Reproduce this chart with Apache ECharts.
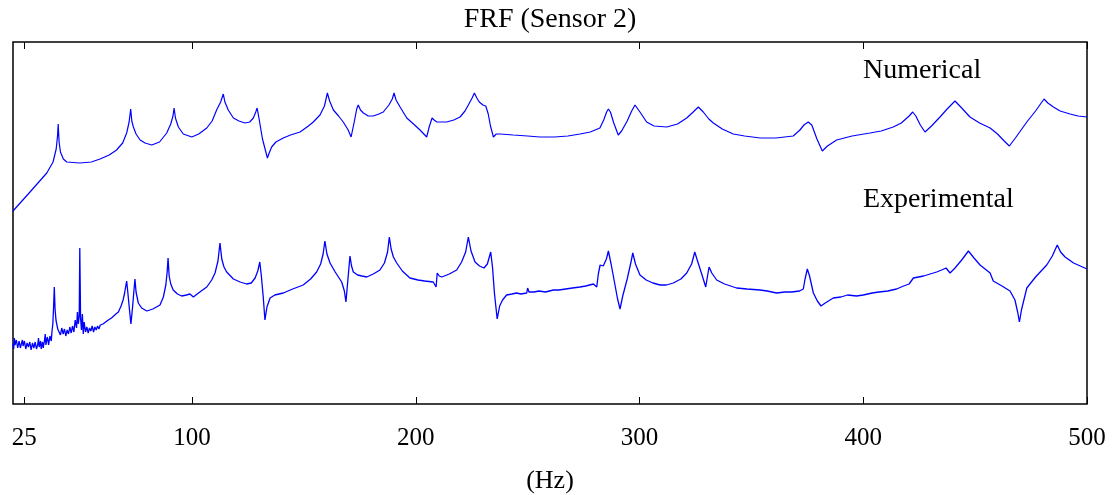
<!DOCTYPE html>
<html>
<head>
<meta charset="utf-8">
<script src="https://cdn.jsdelivr.net/npm/echarts@6/dist/echarts.min.js"></script>
<style>
html,body{margin:0;padding:0;background:#fff;}
#chart{width:1120px;height:495px;}
</style>
</head>
<body>
<div id="chart"></div>
<script>
// ---- data: [frequency (Hz), magnitude (arbitrary log units)] ----
var xTicks = [25, 100, 200, 300, 400, 500];
var titleText = 'FRF (Sensor 2)';
var xName = '(Hz)';
var labelNumerical = 'Numerical';
var labelExperimental = 'Experimental';

var numericalFRF = [
  [20,193],[27.6,212],[35.1,231],[37.9,242],[39.3,255],[39.9,268],[40.2,280],[40.6,262],[41.2,252],[42.5,245],
  [44.0,242],[49.9,241],[55,242],[58.9,245],[63,249],[66.3,254],[69,261],[70.8,271],[71.9,282],[72.6,295],
  [73.1,283],[73.8,277],[75,270],[76.8,264],[79,261],[82.0,259],[85.5,262],[88.7,271],[90.5,280],[91.5,288],
  [92.0,296],[92.6,286],[93.9,277],[96.1,270],[99.9,267],[103,270],[106.6,276],[109,283],[111.0,294],[112.8,302],
  [114.0,310],[114.7,302],[116.2,294],[118.5,286],[121,283],[123.7,281],[125.8,282],[127.4,286],[128.5,292],[129.1,296],
  [130,285],[131.5,265],[133.7,246],[134.5,251],[135.6,257],[137.5,262],[140.8,266],[144,269],[148.3,272],[152,278],
  [154.2,282],[157.2,289],[159.2,298],[160.5,311],[161.5,303],[163.2,294],[165.5,288],[167.6,282],[169.8,274],[171.1,267],
  [172.6,283],[173.6,295],[174.3,299],[175.3,294],[176.6,291],[178.8,288],[181.0,288],[183.5,290],[185.5,292],[188,299],
  [189.5,305],[190.3,311],[191.2,304],[193.0,297],[196.0,286],[199,280],[201.9,274],[204.9,267],[206,277],[207.3,286],
  [208.2,284],[209.4,282],[213.8,282],[217,284],[219.8,287],[222,293],[223.5,299],[225.2,306],[226.2,311],[227.3,306],
  [228.4,302],[230,299],[231.3,298],[232.4,290],[233.4,278],[234.7,267],[236,270],[237.7,270],[243.6,269],[250,268],
  [255.5,267],[262,267],[268,268],[273.4,270],[278,272],[282.3,276],[284,284],[285.3,292],[286.1,295],[287,292],
  [288.5,281],[290.5,269],[292,273],[294.5,283],[296.5,293],[298.0,299],[300.2,292],[303.2,282],[306.5,278],[312.2,277],
  [317,280],[321.1,286],[324,292],[326.3,297],[328.5,292],[331,285],[333.0,281],[337,275],[341.9,270],[347,268],
  [353.9,266],[361,266],[368.7,268],[371.7,274],[373.5,279],[375.4,282],[377.0,279],[379.3,265],[381.7,253],[384,258],
  [388.1,264],[395,268],[403.0,271],[408,273],[413.4,277],[417,281],[420.5,288],[422.1,292],[423.5,288],[425.5,279],
  [427.6,272],[430.5,278],[434.3,287],[437.5,295],[441.0,303],[444,296],[447.7,287],[452,281],[456.7,276],[460,270],
  [463,263],[465.3,258],[468,266],[473.1,282],[477,293],[480.8,305],[482.5,301],[485.0,297],[488,293],[492.4,290],
  [496,288],[500,287]
];

var experimentalFRF = [
  [20.0,60],[20.3,55],[20.6,66],[20.9,59],[21.2,58],[21.5,64],[21.8,63],[22.1,56],[22.4,57],[22.7,63],
  [23.0,62],[23.3,56],[23.6,59],[23.9,61],[24.2,64],[24.5,58],[24.8,57],[25.1,63],[25.4,61],[25.7,55],
  [26.0,56],[26.3,61],[26.6,62],[26.9,57],[27.2,58],[27.5,62],[27.8,60],[28.1,54],[28.4,55],[28.7,61],
  [29.0,63],[29.3,56],[29.6,57],[29.9,62],[30.2,61],[30.5,55],[30.8,56],[31.1,60],[31.4,66],[31.7,57],
  [32.0,58],[32.3,63],[32.6,55],[32.9,59],[33.2,62],[33.5,56],[33.8,57],[34.1,64],[34.4,70],[34.7,59],
  [35.0,60],[35.3,67],[35.6,64],[35.9,59],[36.2,58],[36.5,68],[36.8,66],[37.1,63],[37.4,72],
  [37.8,80],[38.1,95],[38.46,117],[38.8,95],[39.2,84],[40.0,75],[40.6,73],[41.2,69],[41.8,76],[42.4,70],
  [43.0,75],[43.6,68],[44.2,74],[44.8,70],[45.4,77],[46.0,71],[46.6,78],[47.2,72],[47.8,84],[48.4,76],
  [48.8,92],[49.2,80],[49.6,88],[49.85,156],[50.2,86],[50.6,74],[51.0,90],[51.4,70],[51.8,82],[52.4,72],
  [53.0,77],[53.6,71],[54.2,76],[54.8,73],[55.4,78],[56.0,72],[56.6,77],[57.2,74],[57.8,78],[58.4,75],
  [59.0,79],[59.6,77],[60.2,80],[60.8,79],[61.4,82],[62.0,81],[62.6,84],[63.2,84],[64,86],[65,88],
  [66,90],[67.1,92],[68.3,98],[69.2,104],[69.9,111],[70.4,118],[70.8,123],[71.3,112],[71.9,98],[72.7,80],
  [73.4,96],[74.0,112],[74.5,125],[75.0,112],[76.0,101],[77.5,96],[79.8,93],[82.5,95],[85.7,99],[87.2,107],
  [88.3,119],[88.9,132],[89.3,146],[89.8,128],[90.5,120],[91.6,114],[93.5,110],[95.4,108],[97.5,109],[99.1,110],
  [99.9,112],[100.6,107],[103.5,112],[106.6,117],[108.8,124],[110.3,131],[111.6,143],[112.5,161],[113.3,145],[114.3,137],
  [115.5,132],[118.5,125],[121.5,122],[124.4,120],[126.5,121],[128.2,126],[129.4,133],[130.3,142],[131.0,128],[131.8,108],
  [132.6,84],[133.5,97],[134.9,106],[137,109],[140.8,111],[145,115],[149.7,119],[153,125],[155.7,132],[157.5,140],
  [158.6,150],[159.4,163],[160.3,150],[161.7,141],[164,132],[166.9,122],[168.1,113],[168.8,102],[169.7,125],[170.6,148],
  [171.3,138],[172.1,132],[174,129],[176,128],[178.1,127],[181,130],[184.0,134],[186,141],[187.4,152],[188.2,167],
  [189,155],[190,147],[191.5,141],[194,133],[197.4,126],[201,124],[204,123],[207.8,122],[208.6,120],[209.1,117],
  [209.6,131],[210.5,128],[211.6,127],[215,130],[218.3,134],[220.5,142],[222.3,152],[223.5,167],[224.7,153],[226.5,142],
  [228.5,138],[230.5,136],[232,140],[233.5,152],[234.3,137],[235.2,110],[236.4,85],[237.5,98],[238.8,104],[240.6,109],
  [243,110],[245,111],[247,110],[249.6,111],[250.0,116],[250.6,112],[253,112],[255,113],[258,112],[261.5,114],
  [264,114],[267,115],[270,116],[273.4,117],[276,118],[279.4,120],[280.9,117],[281.6,130],[282.4,139],[283.8,138],
  [285.2,145],[286.1,153],[287.3,140],[288.8,122],[290.2,105],[291.3,95],[292.5,108],[294.5,125],[296.2,142],[297.0,151],
  [298.2,140],[300.2,129],[303,124],[306,121],[309.2,119],[312,119],[315.1,121],[318.5,125],[321.1,131],[323.3,140],
  [324.7,152],[325.8,144],[327.8,130],[329.6,117],[330.4,128],[331.1,137],[332.3,131],[334.5,124],[338,120],[343.4,116],
  [348,115],[353.9,114],[357,113],[361.3,111],[365,112],[368,112],[371.5,113],[373.2,115],[374,125],[375.0,135],
  [376.0,128],[377.7,111],[379.5,103],[381.1,98],[383,101],[386.6,106],[390,107],[393,109],[397,108],[400.0,109],
  [404,111],[407,112],[411,113],[414.9,115],[418,118],[420.5,120],[422.4,126],[427,128],[432.8,132],[435,134],
  [437.0,136],[438.8,131],[441,136],[444,144],[447.0,153],[449.5,146],[452.2,139],[456.7,131],[458.1,123],[462,118],
  [465.6,113],[467.8,104],[469.0,92],[469.8,82],[470.7,94],[473.1,116],[477,127],[482.0,139],[484.5,148],[486.7,159],
  [488.2,152],[490.2,147],[494,141],[500,135]
];

var FONT = '"Liberation Serif", "DejaVu Serif", serif';
var chart = echarts.init(document.getElementById('chart'), null, {renderer: 'canvas'});

var option = {
  animation: false,
  backgroundColor: '#fff',
  grid: {
    left: 13, right: 33, top: 42, bottom: 91,
    containLabel: false, outerBoundsMode: 'none',
    show: true, borderColor: '#000', borderWidth: 1.5, backgroundColor: 'transparent'
  },
  xAxis: [{
    type: 'value', min: 20, max: 500, position: 'bottom',
    name: xName, nameLocation: 'middle', nameGap: 64,
    nameTextStyle: {fontFamily: FONT, fontSize: 26, color: '#000'},
    axisLine: {show: false},
    axisTick: {show: true, inside: true, length: 7, customValues: xTicks, lineStyle: {color: '#000', width: 1}},
    axisLabel: {show: true, customValues: xTicks, margin: 22, fontFamily: FONT, fontSize: 25, color: '#000'},
    splitLine: {show: false}
  }, {
    type: 'value', min: 20, max: 500, position: 'top',
    axisLine: {show: false},
    axisTick: {show: true, inside: true, length: 7, customValues: xTicks, lineStyle: {color: '#000', width: 1}},
    axisLabel: {show: false},
    splitLine: {show: false}
  }],
  yAxis: {
    type: 'value', min: 0, max: 362,
    axisLine: {show: false}, axisTick: {show: false}, axisLabel: {show: false}, splitLine: {show: false}
  },
  graphic: [{
    type: 'text', x: 550, y: 20,
    style: {text: titleText, fontFamily: FONT, fontSize: 28, fill: '#000', align: 'center', verticalAlign: 'middle'}
  }, {
    type: 'text', left: 863, top: 57,
    style: {text: labelNumerical, fontFamily: FONT, fontSize: 28, fill: '#000'}
  }, {
    type: 'text', left: 863, top: 186,
    style: {text: labelExperimental, fontFamily: FONT, fontSize: 28, fill: '#000'}
  }],
  series: [{
    name: labelNumerical, type: 'line', xAxisIndex: 0, showSymbol: false,
    data: numericalFRF,
    lineStyle: {color: '#0000ff', width: 1.2}
  }, {
    name: labelExperimental, type: 'line', xAxisIndex: 0, showSymbol: false,
    data: experimentalFRF,
    lineStyle: {color: '#0000ff', width: 1.3}
  }]
};
chart.setOption(option);
</script>
</body>
</html>
